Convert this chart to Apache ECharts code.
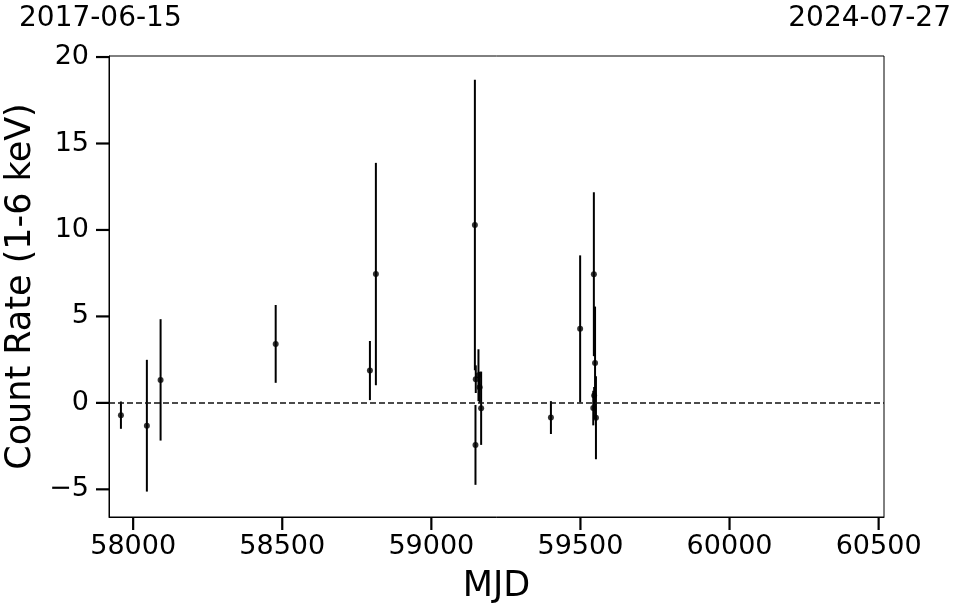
<!DOCTYPE html>
<html>
<head>
<meta charset="utf-8">
<script src="https://cdn.jsdelivr.net/npm/echarts@6/dist/echarts.min.js"></script>
<style>html,body{margin:0;padding:0;background:#fff}#c{width:962px;height:613px}</style>
</head>
<body>
<div id="c"></div>
<script>
// Data (MJD, count rate 1-6 keV, 1-sigma error)
const mjd  = [57959, 58046, 58092, 58478, 58794, 58814, 59146, 59148, 59149, 59158, 59162, 59167, 59401, 59499, 59545, 59549, 59546, 59543, 59552];
const rate = [-0.71, -1.32, 1.33, 3.41, 1.87, 7.45, 10.29, -2.43, 1.37, 1.6, 0.9, -0.31, -0.85, 4.28, 7.44, 2.31, 0.42, -0.3, -0.86];
const err  = [0.79, 3.81, 3.51, 2.25, 1.71, 6.43, 8.40, 2.31, 0.8, 1.5, 0.9, 2.12, 0.95, 4.25, 4.74, 3.26, 0.5, 1.0, 2.4];
const xTicks = [58000, 58500, 59000, 59500, 60000, 60500];
const yTicks = [-5, 0, 5, 10, 15, 20];
const dateStart = '2017-06-15';
const dateEnd = '2024-07-27';
const xMin = 57919, xMax = 60518;
const yMin = -6.6, yMax = 20.06;

const chart = echarts.init(document.getElementById('c'));
const font = 'DejaVu Sans';
const pts = mjd.map((m, i) => [m, rate[i], err[i]]);
const fmt = v => String(v).replace('-', '\u2212');
const TICK = 13;

chart.setOption({
  animation: false,
  backgroundColor: '#fff',
  textStyle: {fontFamily: font},
  grid: {left: 109, right: 78, top: 56, bottom: 96, outerBoundsMode: 'none', containLabel: false,
         show: true, borderColor: '#000', borderWidth: 1, backgroundColor: 'transparent'},
  xAxis: {
    type: 'value', min: xMin, max: xMax,
    name: 'MJD', nameLocation: 'middle', nameGap: 52,
    nameTextStyle: {fontSize: 35, color: '#000', fontFamily: font},
    axisLine: {show: true, onZero: false, lineStyle: {color: '#000', width: 1}},
    axisTick: {show: false},
    axisLabel: {fontSize: 27, color: '#000', margin: 16, fontFamily: font, customValues: xTicks, formatter: v => fmt(v)},
    splitLine: {show: false}
  },
  yAxis: {
    type: 'value', min: yMin, max: yMax,
    name: 'Count Rate (1-6 keV)', nameLocation: 'middle', nameGap: 56,
    nameTextStyle: {fontSize: 35, color: '#000', fontFamily: font},
    axisLine: {show: true, onZero: false, lineStyle: {color: '#000', width: 1}},
    axisTick: {show: false},
    axisLabel: {fontSize: 27, color: '#000', margin: 20, fontFamily: font, customValues: yTicks, formatter: v => fmt(v)},
    splitLine: {show: false}
  },
  series: [
    {
      type: 'custom',
      data: pts,
      renderItem: function (params, api) {
        const x = api.value(0), y = api.value(1), e = api.value(2);
        const p1 = api.coord([x, y - e]);
        const p2 = api.coord([x, y + e]);
        return {
          type: 'line',
          shape: {x1: p1[0], y1: p1[1], x2: p2[0], y2: p2[1]},
          style: {stroke: '#000', lineWidth: 2}
        };
      },
      z: 2
    },
    {
      type: 'scatter',
      data: pts.map(p => [p[0], p[1]]),
      symbol: 'circle', symbolSize: 6,
      itemStyle: {color: '#000'},
      z: 3,
      markLine: {
        silent: true, symbol: 'none', label: {show: false},
        lineStyle: {color: '#111', width: 1.5, type: [6, 3]},
        data: [{yAxis: 0}]
      }
    }
  ]
});

// Major ticks placed through the chart's own axis scales
const tickGraphics = [];
xTicks.forEach(v => {
  const p = chart.convertToPixel({gridIndex: 0}, [v, yMin]);
  tickGraphics.push({type: 'line', silent: true, z: 10,
    shape: {x1: p[0], y1: p[1], x2: p[0], y2: p[1] + TICK}, style: {stroke: '#000', lineWidth: 2.2}});
});
yTicks.forEach(v => {
  const p = chart.convertToPixel({gridIndex: 0}, [xMin, v]);
  tickGraphics.push({type: 'line', silent: true, z: 10,
    shape: {x1: p[0] - TICK, y1: p[1], x2: p[0], y2: p[1]}, style: {stroke: '#000', lineWidth: 2.2}});
});
chart.setOption({graphic: [
  {type: 'text', left: 19, top: 5, style: {text: dateStart, font: '28px "DejaVu Sans"', fill: '#000'}},
  {type: 'text', right: 11, top: 5, style: {text: dateEnd, font: '28px "DejaVu Sans"', fill: '#000'}}
].concat(tickGraphics)});
</script>
</body>
</html>
